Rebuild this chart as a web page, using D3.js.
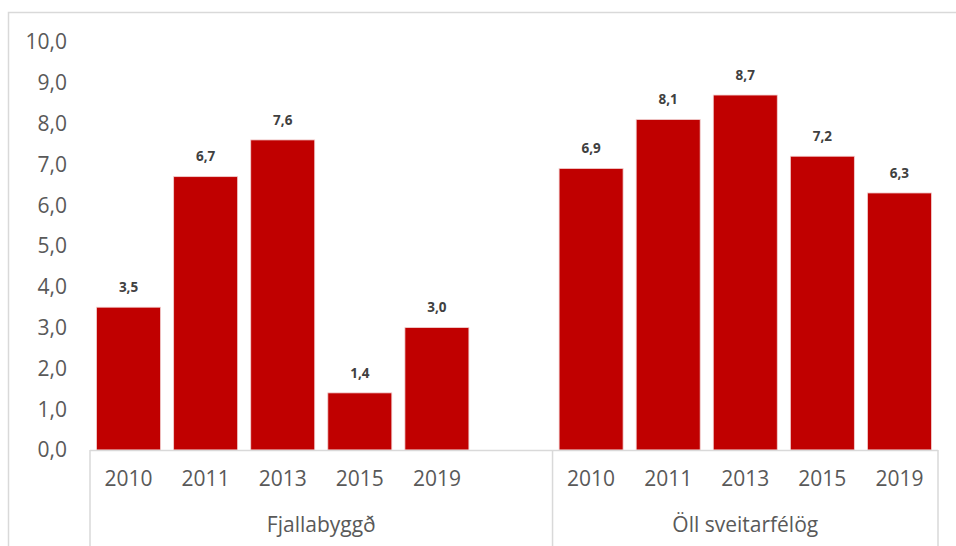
<!DOCTYPE html>
<html>
<head>
<meta charset="utf-8">
<script src="https://cdn.jsdelivr.net/npm/d3@7"></script>
<style>
  body { margin: 0; background: #fff; }
  svg { display: block; font-family: "Open Sans", sans-serif; }
</style>
</head>
<body>
<script>
var width = 956,
    height = 546;

// data
var groups = ["Fjallabyggð", "Öll sveitarfélög"];
var years = ["2010", "2011", "2013", "2015", "2019"];
var fjallabyggd = [3.5, 6.7, 7.6, 1.4, 3.0];
var allMunicipalities = [6.9, 8.1, 8.7, 7.2, 6.3];
var yTicks = [0, 1, 2, 3, 4, 5, 6, 7, 8, 9, 10];

var fmt = function(v) { return v.toFixed(1).replace(".", ","); };

// slots: first group has an empty slot after its bars
var slots = [];
years.forEach(function(y, i) { slots.push({key: "g0-" + y, year: y, value: fjallabyggd[i]}); });
slots.push({key: "g0-blank", year: "", value: null});
years.forEach(function(y, i) { slots.push({key: "g1-" + y, year: y, value: allMunicipalities[i]}); });

var x = d3.scaleBand()
    .domain(slots.map(function(d) { return d.key; }))
    .range([90, 938])
    .paddingInner(0.17)
    .paddingOuter(0.085);

var y = d3.scaleLinear()
    .domain([0, 10])
    .range([450, 42]);

var svg = d3.select("body").append("svg")
    .attr("width", width)
    .attr("height", height);

// chart frame
svg.append("path")
    .attr("d", "M8.5," + height + "V12.5H" + width)
    .attr("fill", "none")
    .attr("stroke", "#d9d9d9")
    .attr("stroke-width", 1.5);

// y labels
svg.selectAll(".ylab")
    .data(yTicks)
    .enter().append("text")
    .attr("class", "ylab")
    .attr("x", 67)
    .attr("y", function(d) { return y(d); })
    .attr("dy", "0.35em")
    .attr("text-anchor", "end")
    .style("font-size", "21px")
    .style("fill", "#595959")
    .text(fmt);

// bars
var bars = slots.filter(function(d) { return d.value !== null; });
svg.selectAll(".bar")
    .data(bars)
    .enter().append("rect")
    .attr("class", "bar")
    .attr("x", function(d) { return x(d.key); })
    .attr("y", function(d) { return y(d.value); })
    .attr("width", x.bandwidth())
    .attr("height", function(d) { return y(0) - y(d.value); })
    .style("fill", "#c00000")
    .style("stroke", "#f2d0d0")
    .style("stroke-width", 0.8);

// value labels
svg.selectAll(".vlab")
    .data(bars)
    .enter().append("text")
    .attr("class", "vlab")
    .attr("x", function(d) { return x(d.key) + x.bandwidth() / 2; })
    .attr("y", function(d) { return y(d.value) - 20; })
    .attr("dy", "0.35em")
    .attr("text-anchor", "middle")
    .style("font-size", "13.5px")
    .style("font-weight", "bold")
    .style("fill", "#404040")
    .text(function(d) { return fmt(d.value); });

// category axis
svg.append("line")
    .attr("x1", 90).attr("x2", 938)
    .attr("y1", 450.5).attr("y2", 450.5)
    .attr("stroke", "#d9d9d9")
    .attr("stroke-width", 1.5);

// group boundaries: start, between groups, end
var mid = (x("g0-blank") + x.bandwidth() + x("g1-2010")) / 2;
var sep = [x.range()[0], mid, x.range()[1]];
svg.selectAll(".sep")
    .data(sep)
    .enter().append("line")
    .attr("class", "sep")
    .attr("x1", function(d) { return d; })
    .attr("x2", function(d) { return d; })
    .attr("y1", 450)
    .attr("y2", height)
    .attr("stroke", "#d9d9d9")
    .attr("stroke-width", 1.5);

svg.selectAll(".xlab")
    .data(bars)
    .enter().append("text")
    .attr("class", "xlab")
    .attr("x", function(d) { return x(d.key) + x.bandwidth() / 2; })
    .attr("y", 479)
    .attr("dy", "0.35em")
    .attr("text-anchor", "middle")
    .style("font-size", "21px")
    .style("fill", "#595959")
    .text(function(d) { return d.year; });

svg.selectAll(".glab")
    .data(groups)
    .enter().append("text")
    .attr("class", "glab")
    .attr("x", function(d, i) { return (sep[i] + sep[i + 1]) / 2; })
    .attr("y", 525)
    .attr("dy", "0.35em")
    .attr("text-anchor", "middle")
    .style("font-size", "21px")
    .style("fill", "#595959")
    .text(function(d) { return d; });
</script>
</body>
</html>
